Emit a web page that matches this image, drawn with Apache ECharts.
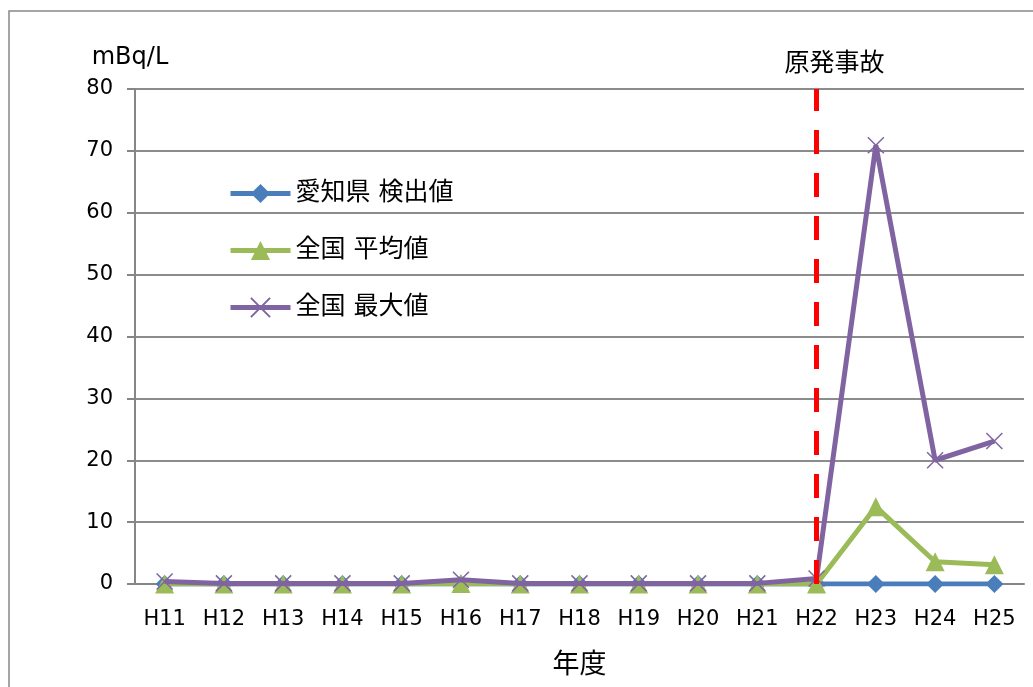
<!DOCTYPE html>
<html>
<head>
<meta charset="utf-8">
<script src="https://cdn.jsdelivr.net/npm/echarts@6/dist/echarts.min.js"></script>
<style>
  html, body { margin: 0; padding: 0; background: #fff; }
  #main { width: 1033px; height: 687px; }
</style>
</head>
<body>
<div id="main"></div>
<script>
    // 年度と測定値
    var years = ['H11', 'H12', 'H13', 'H14', 'H15', 'H16', 'H17', 'H18', 'H19', 'H20', 'H21', 'H22', 'H23', 'H24', 'H25'];
    var aichi = [0, 0, 0, 0, 0, 0, 0, 0, 0, 0, 0, 0, 0, 0, 0];
    var avgJp = [0, 0, 0, 0, 0, 0.1, 0, 0, 0, 0, 0, 0, 12.5, 3.6, 3.1];
    var maxJp = [0.4, 0.1, 0.1, 0.1, 0.1, 0.7, 0.1, 0.1, 0.1, 0.1, 0.1, 0.9, 70.9, 20, 23.1];
    var yTicks = [0, 10, 20, 30, 40, 50, 60, 70, 80];
    var accidentYear = 'H22';

    var font = '"DejaVu Sans", "Noto Sans CJK JP", sans-serif';
    var myChart = echarts.init(document.getElementById('main'));

    var crossPath = 'path://M0,0L10,10M10,0L0,10';

    var option = {
        animation: false,
        textStyle: { fontFamily: font },
        graphic: [{
            type: 'rect',
            shape: { x: 9, y: 11, width: 1100, height: 700 },
            style: { fill: 'none', stroke: '#888', lineWidth: 1.5 }
        }],
        grid: { left: 135, right: 9, top: 89, bottom: 103, outerBoundsMode: 'none' },
        legend: {
            orient: 'vertical',
            left: 223,
            top: 176,
            itemWidth: 60,
            itemHeight: 24,
            itemGap: 32,
            lineStyle: { width: 5 },
            textStyle: { fontSize: 25, color: '#000', fontFamily: font },
            data: ['愛知県 検出値', '全国 平均値', '全国 最大値']
        },
        xAxis: {
            type: 'category',
            data: years,
            name: '年度',
            nameLocation: 'middle',
            nameGap: 68,
            nameTextStyle: { fontSize: 27, color: '#000' },
            axisLine: { lineStyle: { color: '#868686', width: 2 } },
            axisTick: { show: false },
            axisLabel: { fontSize: 21, color: '#000', margin: 25 }
        },
        yAxis: {
            type: 'value',
            min: yTicks[0],
            max: yTicks[yTicks.length - 1],
            interval: 10,
            name: 'mBq/L',
            nameGap: 19,
            nameTextStyle: { fontSize: 24, color: '#000', align: 'center', padding: [0, 10, 0, 0] },
            axisLine: { show: true, lineStyle: { color: '#868686', width: 2 } },
            axisTick: { show: true, length: 8, lineStyle: { color: '#868686', width: 2 } },
            axisLabel: { fontSize: 21, color: '#000', margin: 22 },
            splitLine: { lineStyle: { color: '#8c8c8c', width: 2 } }
        },
        series: [{
            name: '愛知県 検出値',
            type: 'line',
            data: aichi,
            symbol: 'diamond',
            symbolSize: 18,
            lineStyle: { color: '#4a7ebb', width: 5 },
            itemStyle: { color: '#4a7ebb' },
            z: 2
        }, {
            name: '全国 平均値',
            type: 'line',
            data: avgJp,
            symbol: 'triangle',
            symbolSize: 19,
            lineStyle: { color: '#9bbb59', width: 5 },
            itemStyle: { color: '#9bbb59' },
            z: 3
        }, {
            name: '全国 最大値',
            type: 'line',
            data: maxJp,
            symbol: crossPath,
            symbolSize: 16,
            lineStyle: { color: '#8064a2', width: 5 },
            itemStyle: { color: '#8064a2', borderColor: '#8064a2', borderWidth: 1.5 },
            z: 4,
            markLine: {
                silent: true,
                symbol: 'none',
                z: 10,
                lineStyle: { color: '#ff0000', width: 5, type: [24, 19] },
                label: {
                    show: true,
                    position: 'end',
                    distance: 12,
                    formatter: '原発事故',
                    fontSize: 25,
                    color: '#000',
                    offset: [18, 0]
                },
                data: [{ xAxis: accidentYear }]
            }
        }]
    };

    myChart.setOption(option);
</script>
</body>
</html>
